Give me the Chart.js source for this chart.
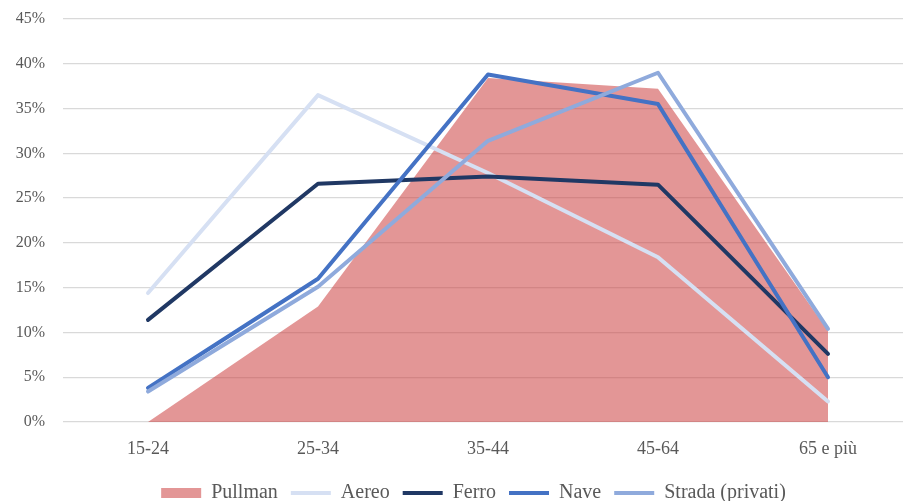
<!DOCTYPE html>
<html>
<head>
<meta charset="utf-8">
<script src="https://cdn.jsdelivr.net/npm/chart.js@4/dist/chart.umd.min.js"></script>
<style>
  html, body { margin: 0; padding: 0; background: #fff; overflow: hidden; }
  #wrap { position: relative; width: 920px; height: 501px; }
</style>
</head>
<body>
<div id="wrap"><canvas id="c"></canvas></div>
<script>
// Quota per fascia d'età, per mezzo di trasporto (%)
const categories = ['15-24', '25-34', '35-44', '45-64', '65 e più'];
const pullman = [0, 12.9, 38.4, 37.2, 10.2];
const aereo   = [14.4, 36.5, 27.8, 18.4, 2.3];
const ferro   = [11.4, 26.6, 27.4, 26.5, 7.6];
const nave    = [3.8, 16.0, 38.8, 35.5, 5.0];
const strada  = [3.4, 15.1, 31.4, 39.0, 10.4];
const yTicks  = [0, 5, 10, 15, 20, 25, 30, 35, 40, 45];

const textColor = '#595959';
const fontFamily = '"Liberation Serif", "DejaVu Serif", serif';

function lineSet(label, data, color, order) {
  return {
    type: 'line', label, data, order,
    borderColor: color, backgroundColor: color,
    borderWidth: 4, borderCapStyle: 'round', borderJoinStyle: 'round',
    pointRadius: 0, pointHoverRadius: 0, pointStyle: 'line',
    fill: false, tension: 0
  };
}

// Centres the legend block under the plot area rather than the whole canvas
const legendShift = {
  id: 'legendShift',
  afterLayout(chart) {
    const l = chart.legend;
    if (!l) return;
    const dx = 17;
    l.left += dx; l.right += dx;
  }
};

new Chart(document.getElementById('c'), {
  type: 'line',
  data: {
    labels: categories,
    datasets: [
      {
        label: 'Pullman', data: pullman, order: 5,
        backgroundColor: 'rgba(204,64,64,0.55)', borderColor: 'rgba(204,64,64,0.55)',
        borderWidth: 0, pointRadius: 0, pointHoverRadius: 0, pointStyle: 'rect',
        fill: 'origin', tension: 0
      },
      lineSet('Aereo', aereo, '#d6e0f3', 4),
      lineSet('Ferro', ferro, '#203864', 3),
      lineSet('Nave', nave, '#4472c4', 2),
      lineSet('Strada (privati)', strada, '#8faadc', 1)
    ]
  },
  plugins: [legendShift],
  options: {
    responsive: true,
    maintainAspectRatio: false,
    animation: false,
    events: [],
    layout: { padding: { top: 19, right: 7, left: 0, bottom: -12 } },
    plugins: {
      tooltip: { enabled: false },
      legend: {
        position: 'bottom',
        labels: {
          usePointStyle: true,
          pointStyleWidth: 40,
          boxHeight: 10,
          padding: 13,
          color: textColor,
          font: { family: fontFamily, size: 20 },
          sort: (a, b) => a.datasetIndex - b.datasetIndex
        }
      }
    },
    scales: {
      x: {
        offset: true,
        grid: { display: false, drawTicks: false },
        border: { display: false },
        ticks: { color: textColor, padding: 16, font: { family: fontFamily, size: 18 }, maxRotation: 0 },
        afterFit: (s) => { s.height = 48; }
      },
      y: {
        min: 0, max: 45,
        afterBuildTicks: (s) => { s.ticks = yTicks.map(v => ({ value: v })); },
        grid: { color: '#d9d9d9', lineWidth: 1.3, drawTicks: false },
        border: { display: false },
        ticks: {
          color: textColor, padding: 18,
          font: { family: fontFamily, size: 16 },
          callback: (v) => v + '%'
        },
        afterFit: (s) => { s.width = 63; s.paddingTop = 0; s.paddingBottom = 0; }
      }
    }
  }
});
</script>
</body>
</html>
